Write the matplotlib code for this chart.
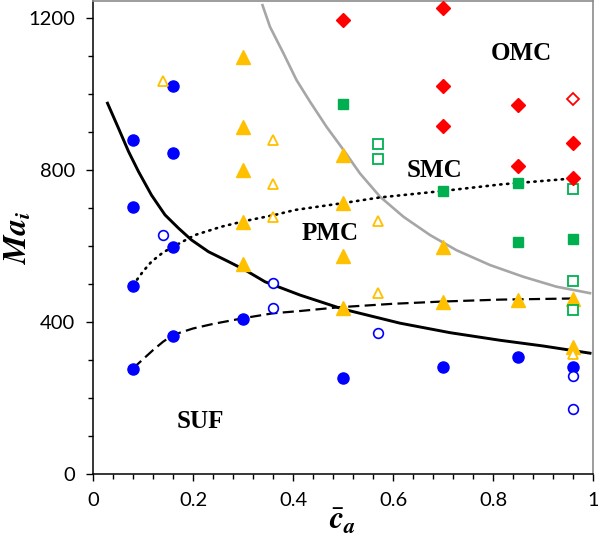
import matplotlib
matplotlib.use("Agg")
import matplotlib.pyplot as plt

plt.rcParams['mathtext.fontset'] = 'stix'

# marker data (c_a, Ma_i)
blue_x = [0.08, 0.08, 0.08, 0.08, 0.16, 0.16, 0.16, 0.16, 0.30, 0.50, 0.70, 0.85, 0.96]
blue_y = [879, 703, 495, 276, 1021, 845, 598, 363, 408, 252, 281, 308, 281]
blue_open_x = [0.14, 0.36, 0.36, 0.57, 0.96, 0.96]
blue_open_y = [629, 503, 437, 370, 258, 171]

orange_x = [0.30, 0.30, 0.30, 0.30, 0.30, 0.50, 0.50, 0.50, 0.50, 0.70, 0.70, 0.85, 0.96, 0.96]
orange_y = [1097, 913, 800, 663, 553, 840, 712, 575, 437, 598, 454, 458, 461, 334]
orange_open_x = [0.14, 0.36, 0.36, 0.36, 0.57, 0.57, 0.96]
orange_open_y = [1034, 879, 763, 676, 667, 477, 316]

green_x = [0.50, 0.70, 0.85, 0.85, 0.96]
green_y = [973, 745, 766, 610, 618]
green_open_x = [0.57, 0.57, 0.96, 0.96, 0.96]
green_open_y = [869, 829, 749, 508, 432]

red_x = [0.50, 0.70, 0.70, 0.70, 0.85, 0.85, 0.96, 0.96]
red_y = [1195, 1226, 1021, 916, 971, 811, 872, 779]
red_open_x = [0.96]
red_open_y = [987]

# boundary curves
solid_x = [0.029, 0.051, 0.071, 0.091, 0.117, 0.144, 0.171, 0.197, 0.231, 0.271, 0.304, 0.344,
           0.414, 0.50, 0.614, 0.714, 0.814, 0.90, 0.994]
solid_y = [976, 910, 849, 796, 734, 682, 647, 616, 585, 559, 537, 506,
           471, 434, 397, 372, 352, 337, 318]

gray_x = [0.339, 0.354, 0.381, 0.407, 0.434, 0.467, 0.501, 0.534, 0.574, 0.621, 0.674,
          0.727, 0.794, 0.861, 0.927, 0.994]
gray_y = [1234, 1177, 1107, 1037, 980, 914, 853, 791, 730, 677, 629,
          589, 550, 519, 493, 476]

dotted_x = [0.08, 0.10, 0.117, 0.14, 0.16, 0.204, 0.257, 0.304, 0.364, 0.404, 0.50, 0.574,
            0.70, 0.814, 0.85, 0.96]
dotted_y = [497, 533, 559, 583, 598, 629, 651, 666, 682, 695, 713, 728,
            745, 762, 766, 778]

dashed_x = [0.08, 0.10, 0.12, 0.14, 0.16, 0.20, 0.24, 0.30, 0.36, 0.414, 0.493, 0.60, 0.70,
            0.814, 0.96]
dashed_y = [278, 302, 326, 348, 366, 383, 395, 410, 423, 429, 439, 448, 454,
            459, 462]

x_ticks = [0, 0.2, 0.4, 0.6, 0.8, 1]
x_labels = ['0', '0.2', '0.4', '0.6', '0.8', '1']
y_ticks = [0, 400, 800, 1200]

regions = ['OMC', 'SMC', 'PMC', 'SUF']
region_x = [0.857, 0.684, 0.474, 0.214]
region_y = [1107, 800, 633, 138]

fig = plt.figure(figsize=(5.98, 5.45), dpi=100)
ax = fig.add_axes([93/598, 71/545, 500/598, 473/545])

# curves
ax.plot(solid_x, solid_y, color='black', lw=2.1, zorder=2)
ax.plot(gray_x, gray_y, color='#a6a6a6', lw=1.9, zorder=2)
ax.plot(dotted_x, dotted_y, color='black', lw=1.9, linestyle=(0, (0.5, 2.1)),
        dash_capstyle='round', zorder=2)
ax.plot(dashed_x, dashed_y, color='black', lw=1.6, linestyle=(0, (5, 2.4)), zorder=2)

# markers
blue = '#0000ff'
orange = '#ffc000'
green = '#00b050'
red = '#ff0000'
ax.plot(blue_x, blue_y, 'o', ms=8, color=blue, zorder=3)
ax.plot(blue_open_x, blue_open_y, 'o', ms=7, mfc='white', mec=blue, mew=1.2, zorder=3)
ax.plot(orange_x, orange_y, '^', ms=9.5, color=orange, zorder=3)
ax.plot(orange_open_x, orange_open_y, '^', ms=7.5, mfc='white', mec=orange, mew=1.3, zorder=3)
ax.plot(green_x, green_y, 's', ms=7.5, color=green, zorder=3)
ax.plot(green_open_x, green_open_y, 's', ms=7, mfc='white', mec=green, mew=1.3, zorder=3)
ax.plot(red_x, red_y, 'D', ms=7, color=red, zorder=3)
ax.plot(red_open_x, red_open_y, 'D', ms=6.2, mfc='white', mec=red, mew=1.3, zorder=3)

for name, tx, ty in zip(regions, region_x, region_y):
    ax.text(tx, ty, name, ha='center', va='center', fontsize=18, fontweight='bold',
            family='Liberation Serif')

ax.set_xlim(0, 1)
ax.set_ylim(0, 1245)
ax.set_xticks(x_ticks)
ax.set_xticklabels(x_labels)
ax.set_yticks(y_ticks)
ax.set_xticks([i * 0.04 for i in range(26)], minor=True)
ax.set_yticks([i * 100 for i in range(13)], minor=True)

for lab in ax.get_xticklabels() + ax.get_yticklabels():
    lab.set_family('Lato')
    lab.set_fontsize(14.5)

ax.tick_params(which='major', direction='out', length=5, width=1, color='black')
ax.tick_params(which='minor', direction='out', length=3.5, width=1, color='black')
ax.tick_params(axis='y', pad=8)
ax.tick_params(axis='x', pad=8)

ax.spines['left'].set_color('black')
ax.spines['bottom'].set_color('black')
ax.spines['left'].set_linewidth(1.1)
ax.spines['bottom'].set_linewidth(1.1)
ax.spines['top'].set_color('#8c8c8c')
ax.spines['right'].set_color('#8c8c8c')
ax.spines['top'].set_linewidth(1.2)
ax.spines['right'].set_linewidth(1.2)

ax.set_xlabel(r'$\bar{\mathbfit{c}}_\mathbfit{a}$', fontsize=23, labelpad=-2)
ax.set_ylabel(r'$\mathbfit{Ma}_\mathbfit{i}$', fontsize=23)
ax.yaxis.set_label_coords(-0.118, 0.5)

fig.savefig('out.png', dpi=100)
